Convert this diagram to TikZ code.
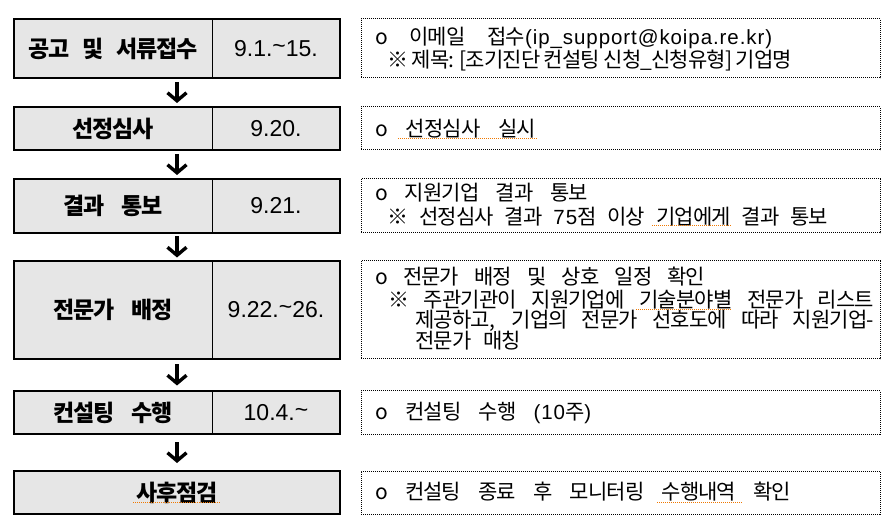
\documentclass[tikz,border=0pt]{standalone}
\usepackage{fontspec}
\usetikzlibrary{arrows.meta,calc}
\newfontfamily\kr{Noto Sans CJK KR}[LetterSpace=-4]
\newfontfamily\krb{Noto Sans CJK KR}[LetterSpace=-5]
\newfontfamily\dt{Liberation Sans}
\newfontfamily\lat{Liberation Sans}[LetterSpace=4.5]
\newcommand{\la}[1]{{\lat\fontsize{20.5}{20.5}\selectfont #1}}
\definecolor{boxgray}{RGB}{230,230,230}
\definecolor{spell}{RGB}{240,120,0}
\tikzset{
  rowbox/.style={draw=black, line width=1.5pt, fill=boxgray, minimum width=326pt, minimum height=#1, inner sep=0pt, outer sep=0pt},
  infobox/.style={draw=black, line width=1pt, dash pattern=on 1pt off 1pt, minimum width=519pt, minimum height=#1, inner sep=0pt, outer sep=0pt},
  divider/.style={draw=black, line width=1pt},
  lbl/.style={inner sep=0pt, font=\krb\bfseries\fontsize{23}{23}\selectfont},
  datelbl/.style={inner sep=0pt, font=\dt\fontsize{23}{23}\selectfont},
  infotext/.style={inner sep=0pt, anchor=base west, font=\kr\fontsize{21}{21}\selectfont},
  flowarrow/.style={line width=3.4pt, -{Straight Barb[length=8pt,width=19pt]}},
  spellline/.style={draw=spell, line width=1pt, dash pattern=on 1pt off 1pt}
}
\newcommand{\infoline}[5]{\node[infotext] (#1) at (#2,#3+7.6) {\makebox[#4pt][s]{#5}};}
\begin{document}
\begin{tikzpicture}[x=1pt,y=-1pt]
\useasboundingbox (0,0) rectangle (892,521);
% left process boxes
\node[rowbox=59pt] (r1) at (177,48.5) {};
\node[rowbox=43pt] (r2) at (177,128.5) {};
\node[rowbox=54pt] (r3) at (177,206) {};
\node[rowbox=98pt] (r4) at (177,310) {};
\node[rowbox=43pt] (r5) at (177,412.5) {};
\node[rowbox=43pt] (r6) at (177,492.5) {};
% dividers
\foreach \r in {r1,r2,r3,r4,r5}{
  \draw[divider] ($(\r.north west)+(198,0)$) -- ($(\r.south west)+(198,0)$);
}
% step names
\node[lbl] (n1) at ($(r1.west)+(99,0)$) {\makebox[170pt][s]{공고 및 서류접수}};
\node[lbl] (n2) at ($(r2.west)+(99,0)$) {선정심사};
\node[lbl] (n3) at ($(r3.west)+(99,0)$) {\makebox[99pt][s]{결과 통보}};
\node[lbl] (n4) at ($(r4.west)+(99,0)$) {\makebox[119pt][s]{전문가 배정}};
\node[lbl] (n5) at ($(r5.west)+(99,0)$) {\makebox[119pt][s]{컨설팅 수행}};
\node[lbl] (n6) at (r6.center) {사후점검};
% dates
\node[datelbl] (d1) at ($(r1.east)+(-64,0)$) {9.1.\raisebox{3pt}{\~{}}15.};
\node[datelbl] (d2) at ($(r2.east)+(-64,0)$) {9.20.};
\node[datelbl] (d3) at ($(r3.east)+(-64,0)$) {9.21.};
\node[datelbl] (d4) at ($(r4.east)+(-64,0)$) {9.22.\raisebox{3pt}{\~{}}26.};
\node[datelbl] (d5) at ($(r5.east)+(-64,0)$) {10.4.\raisebox{3pt}{\~{}}};
% arrows
\foreach \a/\b in {r1/r2,r2/r3,r3/r4,r4/r5,r5/r6}{
  \coordinate (m\a) at ($(\a.south)!0.5!(\b.north)$);
  \draw[flowarrow] ([yshift=10.5pt]m\a) -- ([yshift=-10.5pt]m\a);
}
% info boxes
\node[infobox=59pt] (i1) at (620.5,48.5) {};
\node[infobox=43pt] (i2) at (620.5,128.5) {};
\node[infobox=54pt] (i3) at (620.5,206) {};
\node[infobox=98pt] (i4) at (620.5,310) {};
\node[infobox=43pt] (i5) at (620.5,412.5) {};
\node[infobox=43pt] (i6) at (620.5,492.5) {};
% info texts
\infoline{a1}{375}{36.5}{397}{o 이메일 접수\la{(ip\_support@koipa.re.kr)}}
\infoline{a2}{387}{59.5}{405}{※ 제목: [조기진단 컨설팅 신청\_신청유형] 기업명}
\infoline{b1}{375}{128.5}{161}{o 선정심사 실시}
\infoline{c1}{375}{193}{213}{o 지원기업 결과 통보}
\infoline{c2}{387}{216.5}{441}{※ 선정심사 결과 \la{75}점 이상 기업에게 결과 통보}
\infoline{e1}{375}{277}{330}{o 전문가 배정 및 상호 일정 확인}
\infoline{e2}{388}{299.5}{486}{※ 주관기관이 지원기업에 기술분야별 전문가 리스트}
\infoline{e3}{415}{320}{459}{제공하고, 기업의 전문가 선호도에 따라 지원기업-}
\infoline{e4}{415}{340.5}{106}{전문가 매칭}
\infoline{f1}{375}{412}{216}{o 컨설팅 수행 \la{(10}주\la{)}}
\infoline{g1}{375}{492}{416}{o 컨설팅 종료 후 모니터링 수행내역 확인}
% spell-check underlines
\draw[spellline] (398,139) -- (537,139);
\draw[spellline] (652,226) -- (732,226);
\draw[spellline] (636,310) -- (731,310);
\draw[spellline] (657,502) -- (742,502);
\draw[spellline] (133,502) -- (221,502);
\end{tikzpicture}
\end{document}
